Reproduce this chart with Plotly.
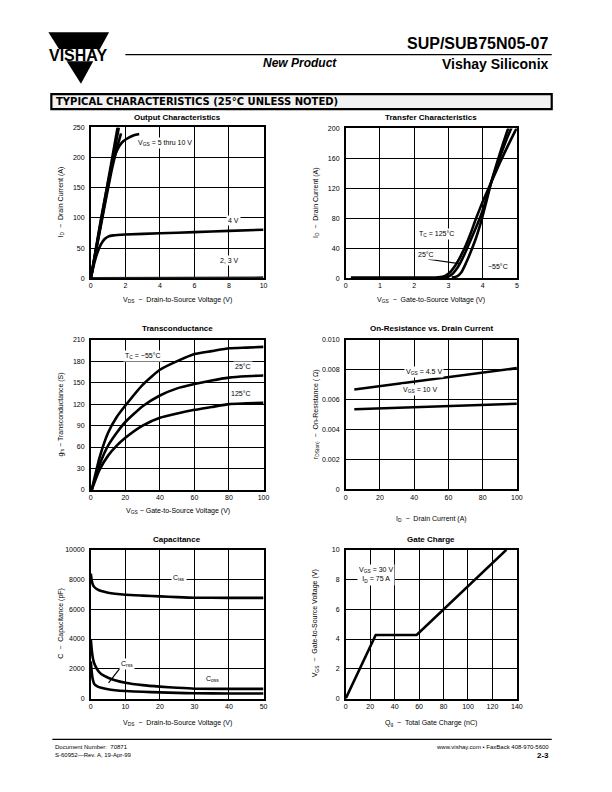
import plotly.graph_objects as go

W, H = 612, 792
FONT = "Liberation Sans, Arial, Helvetica, sans-serif"

# ---------------- data ----------------
# Output characteristics (VDS V, ID A)
out_vds_10 = [0, 1.55]
out_id_10 = [0, 250]
out_vds_8 = [0, 1.62]
out_id_8 = [0, 250]
out_vds_6 = [0, 0.4, 0.8, 1.2, 1.5, 1.75]
out_id_6 = [0, 60, 120, 178, 214, 240]
out_vds_5 = [0, 0.3, 0.6, 0.9, 1.2, 1.5, 1.8, 2.2, 2.5, 2.8]
out_id_5 = [0, 50, 100, 145, 186, 211, 225, 233, 237, 239]
out_vds_4 = [0, 0.2, 0.4, 0.6, 0.8, 1.0, 1.3, 2, 4, 6, 8, 10]
out_id_4 = [0, 25, 44, 57, 65, 69, 71, 72.5, 74.5, 76.5, 78.5, 80.5]
out_vds_23 = [0, 2, 4, 6, 8, 10]
out_id_23 = [0, 0.3, 0.5, 0.7, 0.9, 1.0]

# Transfer characteristics (VGS V, ID A)
tr_vgs_125 = [0.15, 1, 2, 2.5, 2.7, 2.9, 3.05, 3.2, 3.35, 3.5, 3.65, 3.8, 4.0, 4.25, 4.5, 4.75, 5.0]
tr_id_125 = [0.8, 0.8, 0.8, 0.8, 1.2, 3, 8, 17, 29, 43, 60, 79, 102, 128, 154, 178, 201]
tr_vgs_25 = [2.8, 2.95, 3.1, 3.2, 3.34, 3.5, 3.65, 3.8, 3.95, 4.1, 4.25, 4.5, 4.75, 4.95]
tr_id_25 = [0.8, 1.5, 5, 10, 20, 35, 51, 67, 84, 105, 128, 161, 191, 212]
tr_vgs_m55 = [3.1, 3.25, 3.38, 3.51, 3.65, 3.8, 3.95, 4.1, 4.25, 4.5, 4.7, 4.86]
tr_id_m55 = [0.8, 2.5, 8, 20, 35, 53, 75, 101, 128, 166, 194, 214]

# Transconductance (VGS V, gfs S)
gm_v = [0.5, 5, 10, 15, 20, 30, 40, 50, 60, 70, 80, 90, 100]
gm_m55 = [0, 45, 80, 102, 118, 147, 168, 180, 190, 194, 198, 199, 200]
gm_25 = [0, 35, 62, 80, 95, 117, 132, 142, 148, 153, 157, 159, 160]
gm_125 = [0, 28, 48, 62, 73, 90, 101, 107, 112, 116, 120, 121, 122]

# On-resistance (ID A, rDS(on) ohm)
rds_id = [5, 100]
rds_45 = [0.00667, 0.00810]
rds_10 = [0.00535, 0.00572]

# Capacitance (VDS V, pF)
cap_v = [0, 0.3, 0.6, 1, 2, 3, 5, 7, 10, 15, 20, 25, 30, 40, 50]
cap_ciss = [8400, 7900, 7650, 7500, 7320, 7230, 7120, 7050, 6980, 6920, 6870, 6820, 6780, 6770, 6770]
cap_coss = [4000, 3200, 2700, 2350, 1900, 1650, 1400, 1230, 1060, 900, 800, 720, 660, 650, 650]
cap_crss = [2500, 1700, 1250, 980, 800, 720, 620, 560, 500, 450, 410, 380, 350, 340, 340]

# Gate charge (Qg nC, VGS V)
gc_q = [0, 24.5, 58, 131.4]
gc_v = [0, 4.27, 4.27, 10]

# tick labels
out_xt = [0, 2, 4, 6, 8, 10]
out_yt = [0, 50, 100, 150, 200, 250]
tr_xt = [0, 1, 2, 3, 4, 5]
tr_yt = [0, 40, 80, 120, 160, 200]
gm_xt = [0, 20, 40, 60, 80, 100]
gm_yt = [0, 30, 60, 90, 120, 150, 180, 210]
rds_xt = [0, 20, 40, 60, 80, 100]
rds_yt = [0, 0.002, 0.004, 0.006, 0.008, 0.010]
rds_ytext = ["0", "0.002", "0.004", "0.006", "0.008", "0.010"]
cap_xt = [0, 10, 20, 30, 40, 50]
cap_yt = [0, 2000, 4000, 6000, 8000, 10000]
cap_ytext = ["0", "2000", "4000", "6000", "8000", "10000"]
gc_xt = [0, 20, 40, 60, 80, 100, 120, 140]
gc_yt = [0, 2, 4, 6, 8, 10]

# ---------------- layout helpers ----------------
def px(x):
    return x / W

def py(y):
    return 1 - y / H

fig = go.Figure()

panels = [
    (1, 90, 265, 124.5, 276.7, [0, 10], [0, 250], out_xt, out_yt, None),
    (2, 348.3, 521.7, 125.5, 276.7, [0, 5], [0, 200], tr_xt, tr_yt, None),
    (3, 90, 265, 338.7, 490.3, [0, 100], [0, 210], gm_xt, gm_yt, None),
    (4, 348.3, 521.7, 338.7, 489.7, [0, 100], [0, 0.010], rds_xt, rds_yt, rds_ytext),
    (5, 90, 265, 550.7, 700.7, [0, 50], [0, 10000], cap_xt, cap_yt, cap_ytext),
    (6, 348.3, 521.7, 550.7, 700.7, [0, 140], [0, 10], gc_xt, gc_yt, None),
]

layout_axes = {}
for i, l, r, t, b, xr, yr, xt, yt, ytext in panels:
    xa = "xaxis" if i == 1 else f"xaxis{i}"
    ya = "yaxis" if i == 1 else f"yaxis{i}"
    common = dict(showgrid=True, gridcolor="black", gridwidth=1.3, zeroline=False,
                  showline=True, mirror=True, linecolor="black", linewidth=1.6,
                  ticks="", tickfont=dict(family=FONT, size=7, color="black"),
                  fixedrange=True)
    layout_axes[xa] = dict(common, domain=[px(l), px(r)], range=xr, tickvals=xt,
                           anchor="y" if i == 1 else f"y{i}")
    yd = dict(common, domain=[py(b), py(t)], range=yr, tickvals=yt,
              anchor="x" if i == 1 else f"x{i}", ticklabelstandoff=3)
    if ytext is not None:
        yd["ticktext"] = ytext
    layout_axes[ya] = yd

def add_line(xs, ys, i, width=2.6, color="black", shape="spline"):
    fig.add_trace(go.Scatter(x=xs, y=ys, mode="lines",
                             xaxis="x" if i == 1 else f"x{i}",
                             yaxis="y" if i == 1 else f"y{i}",
                             line=dict(color=color, width=width, shape=shape,
                                       smoothing=0.5),
                             hoverinfo="skip", showlegend=False))

# Output characteristics
add_line(out_vds_23, out_id_23, 1, color="#222", shape="linear")
add_line(out_vds_4, out_id_4, 1)
add_line(out_vds_5, out_id_5, 1)
add_line(out_vds_6, out_id_6, 1)
add_line(out_vds_8, out_id_8, 1, shape="linear")
add_line(out_vds_10, out_id_10, 1, shape="linear")
# Transfer
add_line(tr_vgs_125, tr_id_125, 2)
add_line(tr_vgs_25, tr_id_25, 2)
add_line(tr_vgs_m55, tr_id_m55, 2)
# Transconductance
add_line(gm_v, gm_m55, 3)
add_line(gm_v, gm_25, 3)
add_line(gm_v, gm_125, 3)
# On-resistance
add_line(rds_id, rds_45, 4, shape="linear")
add_line(rds_id, rds_10, 4, shape="linear")
# Capacitance
add_line(cap_v, cap_ciss, 5)
add_line(cap_v, cap_coss, 5)
add_line(cap_v, cap_crss, 5)
# Gate charge
add_line(gc_q, gc_v, 6, shape="linear")

ann = []
shapes = []

def text(x, y, s, size=7, bold=False, anchor="center", italic=False, angle=0,
         bg=None, yanchor="middle", family=FONT):
    t = s
    if bold:
        t = f"<b>{t}</b>"
    if italic:
        t = f"<i>{t}</i>"
    d = dict(x=px(x), y=py(y), xref="paper", yref="paper", text=t, showarrow=False,
             xanchor=anchor, yanchor=yanchor, textangle=angle,
             font=dict(family=family, size=size, color="black"))
    if bg:
        d["bgcolor"] = bg
        d["borderpad"] = 1
    ann.append(d)

def seg(x0, y0, x1, y1, w=1.0):
    shapes.append(dict(type="line", xref="paper", yref="paper", x0=px(x0), y0=py(y0),
                       x1=px(x1), y1=py(y1), line=dict(color="black", width=w)))

AT = 7
LB = 7
# Titles
text(177.5, 115, "Output Characteristics", size=8, bold=True)
text(435, 115, "Transfer Characteristics", size=8, bold=True)
text(177.5, 327.5, "Transconductance", size=8, bold=True)
text(435, 327.5, "On-Resistance vs. Drain Current", size=8, bold=True)
text(177.5, 540.5, "Capacitance", size=8, bold=True)
text(435, 540.5, "Gate Charge", size=8, bold=True)

# Axis titles
text(178, 299, "V<sub>DS</sub>  \u2212  Drain-to-Source Voltage (V)", size=AT)
text(435, 299, "V<sub>GS</sub>  \u2212  Gate-to-Source Voltage (V)", size=AT)
text(178, 512, "V<sub>GS</sub> \u2212 Gate-to-Source Voltage (V)", size=AT)
text(435, 520, "I<sub>D</sub>  \u2212  Drain Current (A)", size=AT)
text(178, 725, "V<sub>DS</sub>  \u2212  Drain-to-Source Voltage (V)", size=AT)
text(435, 725, "Q<sub>g</sub>  \u2212  Total Gate Charge (nC)", size=AT)

text(60, 200, "I<sub>D</sub>  \u2212  Drain Current (A)", size=AT, angle=-90)
text(318, 200, "I<sub>D</sub>  \u2212  Drain Current (A)", size=AT, angle=-90)
text(60, 414, "g<sub>fs</sub> \u2212 Transconductance (S)", size=AT, angle=-90)
text(318, 414, "r<sub>DS(on)</sub>  \u2212  On-Resistance ( \u03a9)", size=AT, angle=-90)
text(60, 625, "C  \u2212  Capacitance (pF)", size=AT, angle=-90)
text(318, 625, "V<sub>GS</sub>  \u2212  Gate-to-Source Voltage (V)", size=AT, angle=-90)

# In-plot labels (white background)
text(165, 140, "V<sub>GS</sub> = 5 thru 10 V", size=LB, bg="white")
text(235, 218.5, "4 V", size=LB, bg="white")
text(231, 259, "2, 3 V", size=LB, bg="white")

text(440, 232, "T<sub>C</sub> = 125\u00b0C", size=LB, bg="white")
text(430, 252.5, "25\u00b0C", size=LB, bg="white")
seg(432, 257.5, 463, 262, 1.2)
text(503, 264.5, "\u221255\u00b0C", size=LB, bg="white")

text(143, 355, "T<sub>C</sub> = \u221255\u00b0C", size=LB, bg="white")
text(244, 365.5, "25\u00b0C", size=LB, bg="white")
text(242, 392.5, "125\u00b0C", size=LB, bg="white")

text(428, 371.5, "V<sub>GS</sub> = 4.5 V", size=LB, bg="white")
text(424, 389.5, "V<sub>GS</sub> = 10 V", size=LB, bg="white")

text(179, 579.5, "C<sub>iss</sub>", size=LB, bg="white")
text(127, 666, "C<sub>rss</sub>", size=LB, bg="white")
seg(120, 669.5, 108, 685, 1.2)
text(213, 681.5, "C<sub>oss</sub>", size=LB, bg="white")

text(360, 576.5, "V<sub>GS</sub> = 30 V<br>I<sub>D</sub> = 75 A", size=LB, bg="white",
     anchor="left")

# ---------------- header ----------------
shapes.append(dict(type="path", xref="paper", yref="paper",
                   path=f"M {px(47)},{py(28.5)} L {px(108.5)},{py(28.5)} L {px(80)},{py(80.5)} Z",
                   fillcolor="black", line=dict(width=0)))
shapes.append(dict(type="rect", xref="paper", yref="paper", x0=px(45), x1=px(111),
                   y0=py(57.7), y1=py(45.5), fillcolor="white", line=dict(width=0)))
text(77.5, 51.8, "VISHAY", size=16, bold=True)

seg(125, 51, 557, 51, 1.3)
text(556.5, 39.5, "SUP/SUB75N05-07", size=16, bold=True, anchor="right")
text(556, 60.5, "Vishay Siliconix", size=14, bold=True, anchor="right")
text(301.5, 59.5, "New Product", size=12, bold=True, italic=True)

shapes.append(dict(type="rect", xref="paper", yref="paper", x0=px(50), x1=px(557),
                   y0=py(106), y1=py(91), fillcolor="#f2f2f2",
                   line=dict(color="black", width=2.2)))
text(53, 98.8, "TYPICAL CHARACTERISTICS (25\u00b0C UNLESS NOTED)", size=10, bold=True,
     anchor="left", family="DejaVu Sans, Liberation Sans, sans-serif")

# ---------------- footer ----------------
seg(51, 742, 557, 742, 1.3)
text(52, 750, "Document Number:  70871", size=6, anchor="left")
text(52, 758, "S-60952\u2014Rev. A, 19-Apr-99", size=6, anchor="left")
text(556, 750, "www.vishay.com \u2022 FaxBack 408-970-5600", size=6, anchor="right")
text(556, 758.5, "2-3", size=8, bold=True, anchor="right")

fig.update_layout(width=W, height=H, margin=dict(l=0, r=0, t=0, b=0),
                  font=dict(family=FONT, size=7, color="black"),
                  paper_bgcolor="white", plot_bgcolor="white",
                  annotations=ann, shapes=shapes, showlegend=False,
                  **layout_axes)

fig.write_html("out.html", config={"displayModeBar": False},
               post_script="document.body.style.margin='0';document.body.style.padding='0';"
                           "document.documentElement.style.overflow='hidden';")
